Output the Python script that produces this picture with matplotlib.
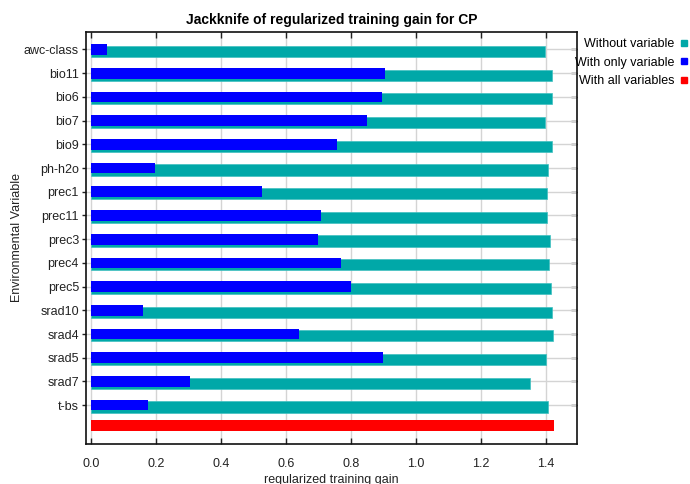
import matplotlib.pyplot as plt
from matplotlib.lines import Line2D

plt.rcParams["font.family"] = ["Liberation Sans", "DejaVu Sans"]

variables = ["awc-class", "bio11", "bio6", "bio7", "bio9", "ph-h2o", "prec1", "prec11",
             "prec3", "prec4", "prec5", "srad10", "srad4", "srad5", "srad7", "t-bs"]
without_variable = [1.398, 1.418, 1.418, 1.398, 1.418, 1.407, 1.404, 1.404,
                    1.412, 1.409, 1.415, 1.418, 1.422, 1.400, 1.351, 1.406]
with_only_variable = [0.050, 0.905, 0.895, 0.850, 0.757, 0.197, 0.526, 0.708,
                      0.698, 0.769, 0.800, 0.160, 0.640, 0.898, 0.305, 0.177]
with_all_variables = 1.425
x_ticks = [0.0, 0.2, 0.4, 0.6, 0.8, 1.0, 1.2, 1.4]

TEAL = "#00a8a8"
BLUE = "#0000ff"
RED = "#ff0000"

fig = plt.figure(figsize=(6.9, 4.84), dpi=100)
ax = fig.add_axes([0.1246, 0.0826, 0.7116, 0.8514])

pos = list(range(len(variables)))
ax.barh([p + 0.08 for p in pos], without_variable, height=0.47, color=TEAL,
        edgecolor="#40c0c0", linewidth=0.5, zorder=2)
ax.barh(pos, with_only_variable, height=0.45, color=BLUE, linewidth=0, zorder=3)
ax.barh([15.84], [with_all_variables], height=0.46, color=RED, linewidth=0, zorder=3)

ax.set_xlim(-0.015, 1.495)
ax.set_ylim(16.64, -0.74)
ax.set_xticks(x_ticks)
ax.set_xticklabels([f"{t:.1f}" for t in x_ticks])
ax.set_yticks(pos)
ax.set_yticklabels(variables)

ax.set_axisbelow(True)
ax.grid(True, color="#d4d4d4", linewidth=1.0)
ax.tick_params(axis="x", direction="in", top=True, length=4, width=1.0,
               labelsize=9, pad=10, colors="#222222")
ax.tick_params(axis="y", direction="out", length=3, width=1.0,
               labelsize=9, pad=2, colors="#222222")
for side in ["left", "right", "top", "bottom"]:
    ax.spines[side].set_linewidth(1.2)
    ax.spines[side].set_color("#111111")

# inward ticks on the right edge at each variable
ax_r = ax.secondary_yaxis("right")
ax_r.set_yticks(pos)
ax_r.set_yticklabels([])
ax_r.tick_params(direction="in", length=4, width=1.0)
ax_r.spines["right"].set_visible(False)

ax.set_title("Jackknife of regularized training gain for CP", fontsize=10,
             fontweight="bold", pad=6)
ax.set_xlabel("regularized training gain", fontsize=9, labelpad=3, color="#222222")
ax.set_ylabel("Environmental Variable", fontsize=9, color="#222222")
ax.yaxis.set_label_coords(-0.128, 0.5)

handles = [
    Line2D([], [], linestyle="none", marker="s", markersize=4, color=TEAL, label="Without variable"),
    Line2D([], [], linestyle="none", marker="s", markersize=4, color=BLUE, label="With only variable"),
    Line2D([], [], linestyle="none", marker="s", markersize=4, color=RED, label="With all variables"),
]
fig.legend(handles=handles, loc="upper right", bbox_to_anchor=(1.004, 0.934),
           bbox_transform=fig.transFigure, frameon=False, markerfirst=False,
           fontsize=9, handlelength=0.4, handletextpad=0.6, labelspacing=0.52,
           borderpad=0.0)

fig.savefig("out.png", dpi=100)
